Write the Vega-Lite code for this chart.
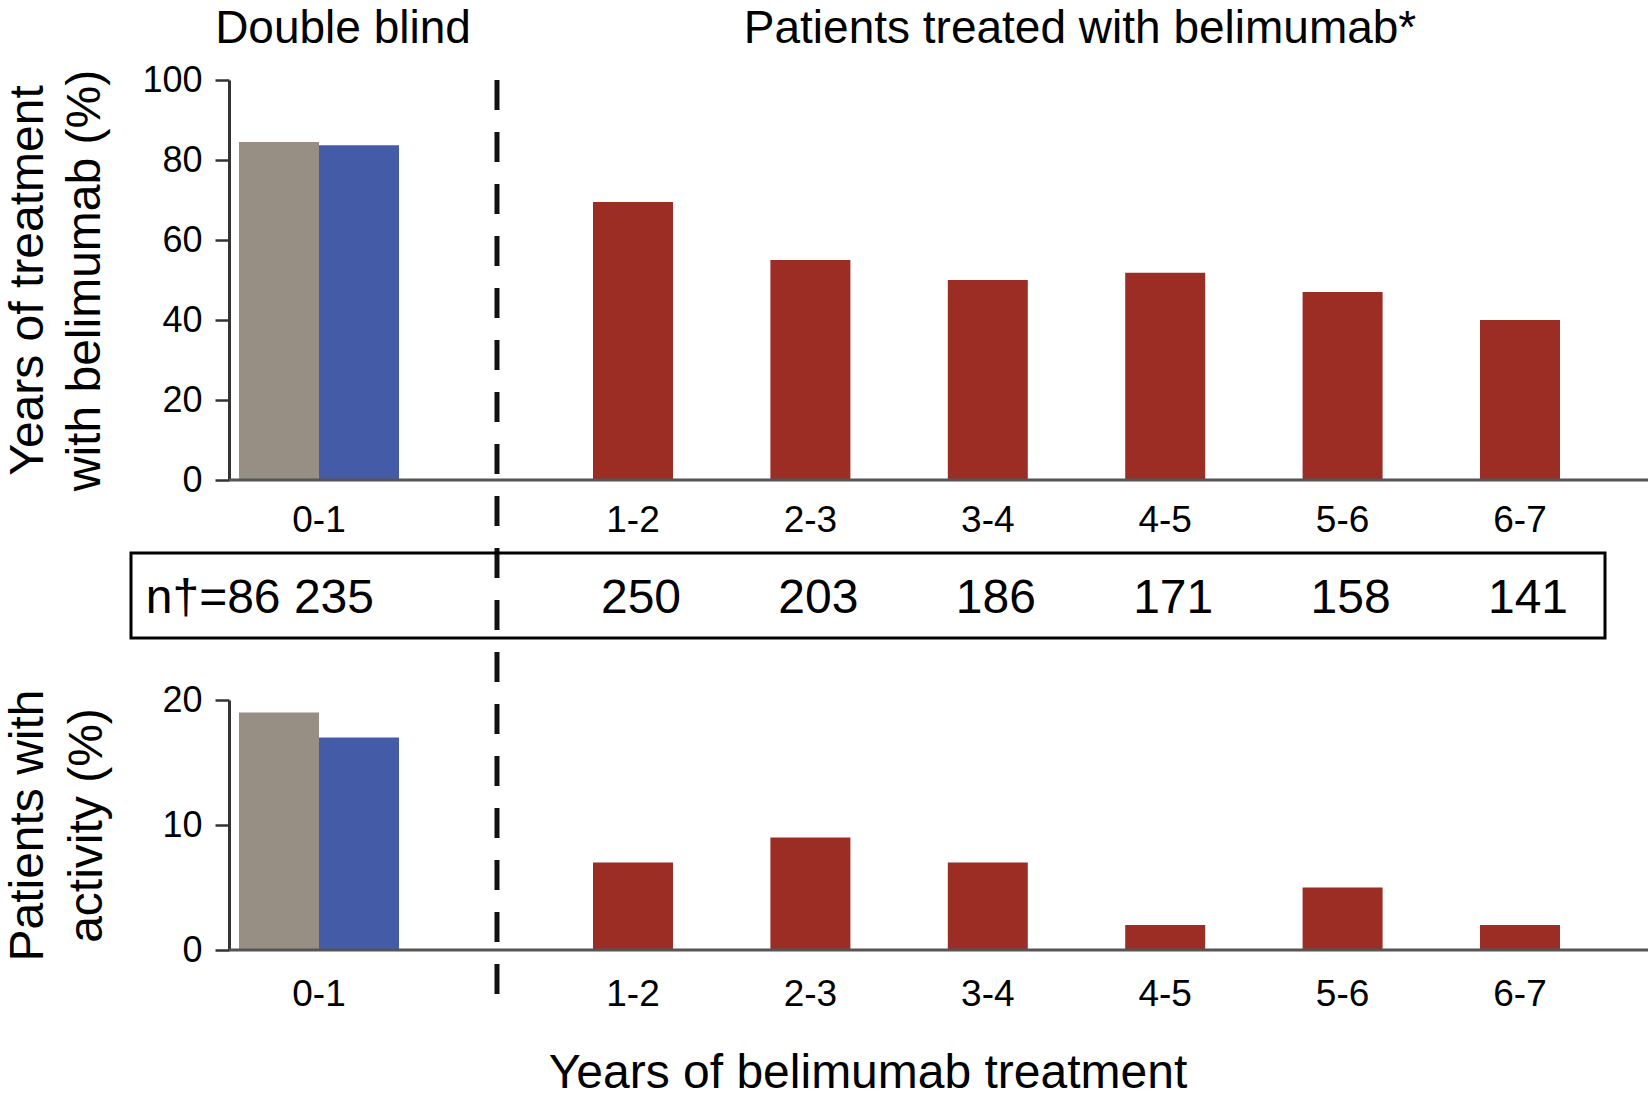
{
  "$schema": "https://vega.github.io/schema/vega-lite/v6.json",
  "width": 1651,
  "height": 1102,
  "autosize": "none",
  "padding": 0,
  "background": "white",
  "config": {
    "view": {"stroke": null},
    "font": "Liberation Sans",
    "axis": {"labelFont": "Liberation Sans", "titleFont": "Liberation Sans", "labelColor": "#000", "titleColor": "#000", "grid": false, "titleFontWeight": "normal"},
    "text": {"font": "Liberation Sans", "color": "#000"}
  },
  "datasets": {
    "bars": [
      {"period": "0-1", "arm": "Placebo", "persistence": 84.5, "activity": 19, "n": 86},
      {"period": "0-1", "arm": "Belimumab", "persistence": 83.7, "activity": 17, "n": 235},
      {"period": "1-2", "arm": "Belimumab (open label)", "persistence": 69.5, "activity": 7, "n": 250},
      {"period": "2-3", "arm": "Belimumab (open label)", "persistence": 55, "activity": 9, "n": 203},
      {"period": "3-4", "arm": "Belimumab (open label)", "persistence": 50, "activity": 7, "n": 186},
      {"period": "4-5", "arm": "Belimumab (open label)", "persistence": 51.8, "activity": 2, "n": 171},
      {"period": "5-6", "arm": "Belimumab (open label)", "persistence": 47, "activity": 5, "n": 158},
      {"period": "6-7", "arm": "Belimumab (open label)", "persistence": 40, "activity": 2, "n": 141}
    ]
  },
  "layer": [
    {
      "data": {"name": "bars"},
      "transform": [{"filter": "datum.period === '0-1'"}],
      "mark": {"type": "bar"},
      "encoding": {
        "x": {"field": "period", "type": "nominal",
          "scale": {"type": "band", "domain": ["0-1"], "range": [239, 399], "paddingInner": 0, "paddingOuter": 0},
          "axis": {"orient": "bottom", "offset": -622, "ticks": false, "tickSize": 0, "domain": false, "labelFontSize": 37, "labelBaseline": "alphabetic", "labelPadding": 51, "labelAngle": 0, "title": null}},
        "xOffset": {"field": "arm", "type": "nominal", "scale": {"domain": ["Placebo", "Belimumab"], "paddingInner": 0, "paddingOuter": 0}},
        "y": {"field": "persistence", "type": "quantitative",
          "scale": {"domain": [0, 100], "range": [480, 80], "nice": false},
          "axis": {"orient": "left", "offset": -229, "values": [0, 20, 40, 60, 80, 100], "labelFontSize": 36, "labelPadding": 13, "tickSize": 14, "tickWidth": 2.5, "tickColor": "#333", "domainColor": "#333", "domainWidth": 3, "title": ["Years of treatment", "with belimumab (%)"], "titleFontSize": 48, "titleLineHeight": 57, "titlePadding": 32}},
        "color": {"field": "arm", "type": "nominal", "scale": {"domain": ["Placebo", "Belimumab", "Belimumab (open label)"], "range": ["#978e84", "#445ca7", "#9b2d25"]}, "legend": null}
      }
    },
    {
      "data": {"name": "bars"},
      "transform": [{"filter": "datum.period !== '0-1'"}],
      "mark": {"type": "bar", "width": {"band": 0.451}},
      "encoding": {
        "x": {"field": "period", "type": "nominal",
          "scale": {"type": "band", "domain": ["1-2", "2-3", "3-4", "4-5", "5-6", "6-7"], "range": [544.3, 1608.7], "paddingInner": 0, "paddingOuter": 0},
          "axis": {"orient": "bottom", "offset": -622, "ticks": false, "tickSize": 0, "domain": false, "labelFontSize": 37, "labelBaseline": "alphabetic", "labelPadding": 51, "labelAngle": 0, "title": null}},
        "y": {"field": "persistence", "type": "quantitative", "scale": {"domain": [0, 100], "range": [480, 80], "nice": false}, "axis": null},
        "color": {"field": "arm", "type": "nominal", "legend": null}
      }
    },
    {
      "data": {"name": "bars"},
      "transform": [{"filter": "datum.period === '0-1'"}],
      "mark": {"type": "bar"},
      "encoding": {
        "x": {"field": "period", "type": "nominal",
          "scale": {"type": "band", "domain": ["0-1"], "range": [239, 399], "paddingInner": 0, "paddingOuter": 0},
          "axis": {"orient": "bottom", "offset": -152, "ticks": false, "tickSize": 0, "domain": false, "labelFontSize": 37, "labelBaseline": "alphabetic", "labelPadding": 55, "labelAngle": 0, "title": null}},
        "xOffset": {"field": "arm", "type": "nominal", "scale": {"domain": ["Placebo", "Belimumab"], "paddingInner": 0, "paddingOuter": 0}},
        "y": {"field": "activity", "type": "quantitative",
          "scale": {"domain": [0, 20], "range": [950, 700], "nice": false},
          "axis": {"orient": "left", "offset": -229, "values": [0, 10, 20], "labelFontSize": 36, "labelPadding": 13, "tickSize": 14, "tickWidth": 2.5, "tickColor": "#333", "domainColor": "#333", "domainWidth": 3, "title": ["Patients with", "activity (%)"], "titleFontSize": 48, "titleLineHeight": 59, "titlePadding": 50}},
        "color": {"field": "arm", "type": "nominal", "legend": null}
      }
    },
    {
      "data": {"name": "bars"},
      "transform": [{"filter": "datum.period !== '0-1'"}],
      "mark": {"type": "bar", "width": {"band": 0.451}},
      "encoding": {
        "x": {"field": "period", "type": "nominal",
          "scale": {"type": "band", "domain": ["1-2", "2-3", "3-4", "4-5", "5-6", "6-7"], "range": [544.3, 1608.7], "paddingInner": 0, "paddingOuter": 0},
          "axis": {"orient": "bottom", "offset": -152, "ticks": false, "tickSize": 0, "domain": false, "labelFontSize": 37, "labelBaseline": "alphabetic", "labelPadding": 55, "labelAngle": 0, "title": null}},
        "y": {"field": "activity", "type": "quantitative", "scale": {"domain": [0, 20], "range": [950, 700], "nice": false}, "axis": null},
        "color": {"field": "arm", "type": "nominal", "legend": null}
      }
    },
    {
      "data": {"values": [{}]},
      "mark": {"type": "rule", "color": "#555", "strokeWidth": 3},
      "encoding": {
        "x": {"datum": 0, "type": "quantitative", "scale": {"domain": [0, 1], "range": [229, 1648]}, "axis": null},
        "x2": {"datum": 1},
        "y": {"datum": 0, "type": "quantitative", "scale": {"domain": [0, 100], "range": [480, 80], "nice": false}, "axis": null}
      }
    },
    {
      "data": {"values": [{}]},
      "mark": {"type": "rule", "color": "#555", "strokeWidth": 3},
      "encoding": {
        "x": {"datum": 0, "type": "quantitative", "scale": {"domain": [0, 1], "range": [229, 1648]}, "axis": null},
        "x2": {"datum": 1},
        "y": {"datum": 0, "type": "quantitative", "scale": {"domain": [0, 20], "range": [950, 700], "nice": false}, "axis": null}
      }
    },
    {
      "data": {"values": [{}]},
      "mark": {"type": "rule", "color": "#111", "strokeWidth": 5, "strokeDash": [30, 22]},
      "encoding": {
        "x": {"datum": 0.2483, "type": "quantitative", "scale": {"domain": [0, 1], "range": [131, 1605]}, "axis": null},
        "y": {"datum": 100, "type": "quantitative", "scale": {"domain": [0, 100], "range": [480, 80], "nice": false}, "axis": null},
        "y2": {"datum": -128.75}
      }
    },
    {
      "data": {"values": [{}]},
      "mark": {"type": "rect", "fill": "transparent", "stroke": "#000", "strokeWidth": 3},
      "encoding": {
        "x": {"datum": 0, "type": "quantitative", "scale": {"domain": [0, 1], "range": [131, 1605]}, "axis": null},
        "x2": {"datum": 1},
        "y": {"datum": 0, "type": "quantitative", "scale": {"domain": [0, 1], "range": [638, 553]}, "axis": null},
        "y2": {"datum": 1}
      }
    },
    {
      "data": {"name": "bars"},
      "transform": [{"filter": "datum.period !== '0-1'"}],
      "mark": {"type": "text", "fontSize": 48, "baseline": "alphabetic", "align": "center", "dx": 8},
      "encoding": {
        "x": {"field": "period", "type": "nominal", "scale": {"type": "band", "domain": ["1-2", "2-3", "3-4", "4-5", "5-6", "6-7"], "range": [544.3, 1608.7], "paddingInner": 0, "paddingOuter": 0}, "axis": null},
        "y": {"datum": 0.29, "type": "quantitative", "scale": {"domain": [0, 1], "range": [638, 553]}, "axis": null},
        "text": {"field": "n", "type": "quantitative"}
      }
    },
    {
      "data": {"values": [{}]},
      "mark": {"type": "text", "fontSize": 48, "baseline": "alphabetic", "align": "left", "text": "n†=86 235"},
      "encoding": {
        "x": {"datum": 0.01, "type": "quantitative", "scale": {"domain": [0, 1], "range": [131, 1605]}, "axis": null},
        "y": {"datum": 0.29, "type": "quantitative", "scale": {"domain": [0, 1], "range": [638, 553]}, "axis": null}
      }
    },
    {
      "data": {"values": [{}]},
      "mark": {"type": "text", "fontSize": 46, "baseline": "alphabetic", "align": "center", "text": "Double blind"},
      "encoding": {
        "x": {"datum": "0-1", "type": "nominal", "bandPosition": 0.65, "scale": {"type": "band", "domain": ["0-1"], "range": [239, 399], "paddingInner": 0, "paddingOuter": 0}, "axis": null},
        "y": {"datum": 109.2, "type": "quantitative", "scale": {"domain": [0, 100], "range": [480, 80], "nice": false}, "axis": null}
      }
    },
    {
      "data": {"values": [{}]},
      "mark": {"type": "text", "fontSize": 46, "baseline": "alphabetic", "align": "center", "text": "Patients treated with belimumab*"},
      "encoding": {
        "x": {"datum": "4-5", "type": "nominal", "bandPosition": 0.02, "scale": {"type": "band", "domain": ["1-2", "2-3", "3-4", "4-5", "5-6", "6-7"], "range": [544.3, 1608.7], "paddingInner": 0, "paddingOuter": 0}, "axis": null},
        "y": {"datum": 109.2, "type": "quantitative", "scale": {"domain": [0, 100], "range": [480, 80], "nice": false}, "axis": null}
      }
    },
    {
      "data": {"values": [{}]},
      "mark": {"type": "text", "fontSize": 48, "baseline": "alphabetic", "align": "center", "text": "Years of belimumab treatment"},
      "encoding": {
        "x": {"datum": 0.5, "type": "quantitative", "scale": {"domain": [0, 1], "range": [131, 1605]}, "axis": null},
        "y": {"datum": -11, "type": "quantitative", "scale": {"domain": [0, 20], "range": [950, 700], "nice": false}, "axis": null}
      }
    }
  ],
  "resolve": {
    "scale": {"x": "independent", "y": "independent", "xOffset": "independent"},
    "axis": {"x": "independent", "y": "independent"}
  }
}
